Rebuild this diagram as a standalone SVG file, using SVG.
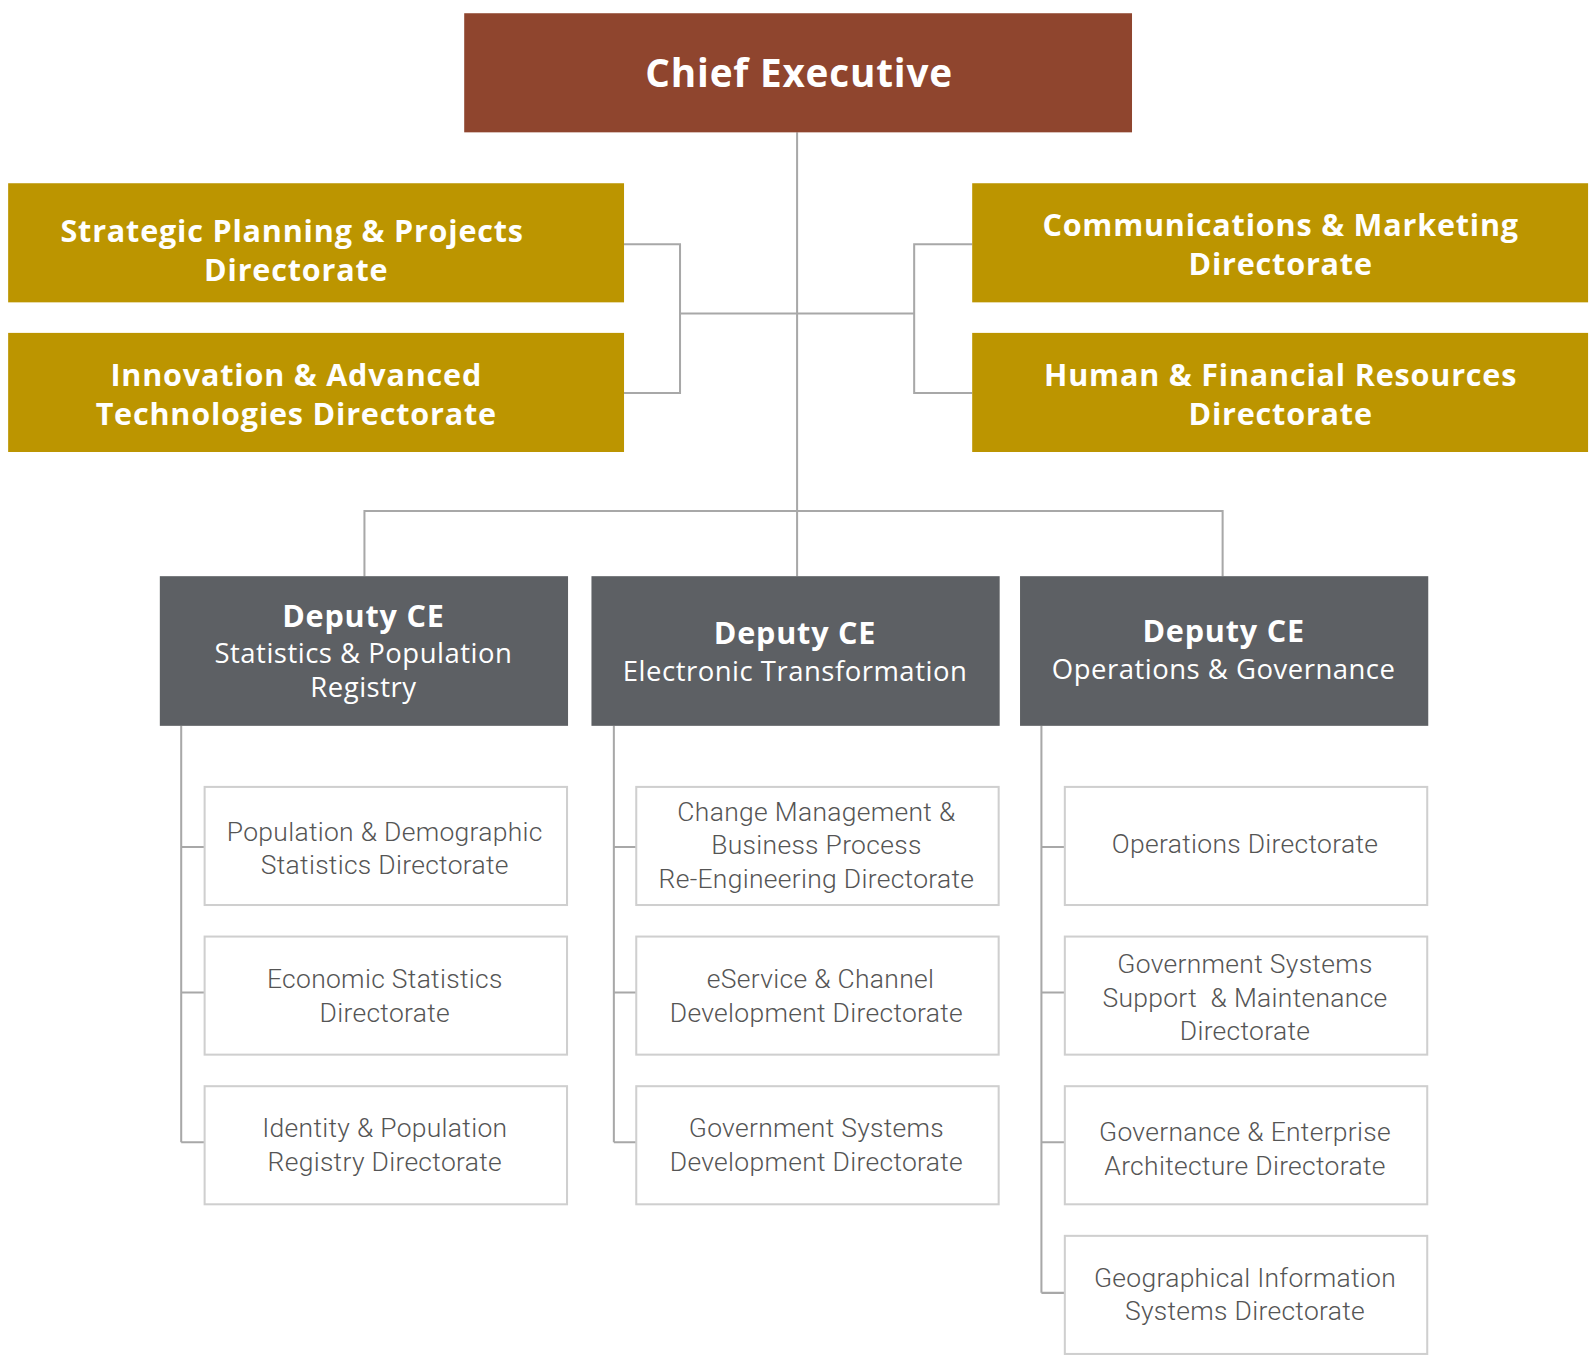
<svg xmlns="http://www.w3.org/2000/svg" width="1596" height="1369" viewBox="0 0 1596 1369">
<style>
.ce{fill:#8f452e}
.gold{fill:#bc9500}
.dep{fill:#5d6064}
.child{fill:#fff;stroke:#cfcfcf;stroke-width:2}
.conn{fill:none;stroke:#a8a8a8;stroke-width:2}
.tw{font-family:"Open Sans","Liberation Sans",sans-serif;fill:#fff;text-anchor:middle;font-weight:bold;letter-spacing:0.8px}
.td{font-family:"Open Sans","Liberation Sans",sans-serif;fill:#fff;text-anchor:middle;letter-spacing:0.5px}
.tc{font-family:Roboto,"Liberation Sans",sans-serif;fill:#555;text-anchor:middle;font-size:26px;font-weight:300;letter-spacing:0.3px}
</style>
<rect width="1596" height="1369" fill="#fff"/>
<g transform="scale(1.018)">
<g id="connectors" class="conn">
<path d="M783 130V566"/>
<path d="M613 240H668V386H613M668 308H898M955 240H898V386H955"/>
<path d="M358 566V502H1201V566"/>
<path d="M178 713V1122M178 832H201M178 975H201M178 1122H201"/>
<path d="M603 713V1122M603 832H625M603 975H625M603 1122H625"/>
<path d="M1023 713V1270M1023 832H1046M1023 975H1046M1023 1122H1046M1023 1270H1046"/>
</g>
<g id="ce"><rect class="ce" x="456" y="13" width="656" height="117"/><text class="tw" x="785" y="85" font-size="38">Chief Executive</text></g>
<g id="sp"><rect class="gold" x="8" y="180" width="605" height="117"/><text class="tw" x="287" y="238" font-size="30">Strategic Planning &amp; Projects</text><text class="tw" x="291" y="276" font-size="30">Directorate</text></g>
<g id="ia"><rect class="gold" x="8" y="327" width="605" height="117"/><text class="tw" x="291" y="379" font-size="30">Innovation &amp; Advanced</text><text class="tw" x="291" y="417" font-size="30">Technologies Directorate</text></g>
<g id="cm"><rect class="gold" x="955" y="180" width="605" height="117"/><text class="tw" x="1258" y="232" font-size="30">Communications &amp; Marketing</text><text class="tw" x="1258" y="270" font-size="30">Directorate</text></g>
<g id="hf"><rect class="gold" x="955" y="327" width="605" height="117"/><text class="tw" x="1258" y="379" font-size="30">Human &amp; Financial Resources</text><text class="tw" x="1258" y="417" font-size="30">Directorate</text></g>
<g id="d1"><rect class="dep" x="157" y="566" width="401" height="147"/><text class="tw" x="357" y="616" font-size="30">Deputy CE</text><text class="td" x="357" y="651" font-size="27">Statistics &amp; Population</text><text class="td" x="357" y="685" font-size="27">Registry</text></g>
<g id="d2"><rect class="dep" x="581" y="566" width="401" height="147"/><text class="tw" x="781" y="633" font-size="30">Deputy CE</text><text class="td" x="781" y="669" font-size="27">Electronic Transformation</text></g>
<g id="d3"><rect class="dep" x="1002" y="566" width="401" height="147"/><text class="tw" x="1202" y="631" font-size="30">Deputy CE</text><text class="td" x="1202" y="667" font-size="27">Operations &amp; Governance</text></g>
<g id="c11"><rect class="child" x="201" y="773" width="356" height="116"/><text class="tc" x="378" y="826">Population &amp; Demographic</text><text class="tc" x="378" y="859">Statistics Directorate</text></g>
<g id="c12"><rect class="child" x="201" y="920" width="356" height="116"/><text class="tc" x="378" y="971">Economic Statistics</text><text class="tc" x="378" y="1004">Directorate</text></g>
<g id="c13"><rect class="child" x="201" y="1067" width="356" height="116"/><text class="tc" x="378" y="1117">Identity &amp; Population</text><text class="tc" x="378" y="1150">Registry Directorate</text></g>
<g id="c21"><rect class="child" x="625" y="773" width="356" height="116"/><text class="tc" x="802" y="806">Change Management &amp;</text><text class="tc" x="802" y="839">Business Process</text><text class="tc" x="802" y="872">Re-Engineering Directorate</text></g>
<g id="c22"><rect class="child" x="625" y="920" width="356" height="116"/><text class="tc" x="806" y="971">eService &amp; Channel</text><text class="tc" x="802" y="1004">Development Directorate</text></g>
<g id="c23"><rect class="child" x="625" y="1067" width="356" height="116"/><text class="tc" x="802" y="1117">Government Systems</text><text class="tc" x="802" y="1150">Development Directorate</text></g>
<g id="c31"><rect class="child" x="1046" y="773" width="356" height="116"/><text class="tc" x="1223" y="838">Operations Directorate</text></g>
<g id="c32"><rect class="child" x="1046" y="920" width="356" height="116"/><text class="tc" x="1223" y="956">Government Systems</text><text class="tc" x="1223" y="989" xml:space="preserve">Support  &amp; Maintenance</text><text class="tc" x="1223" y="1022">Directorate</text></g>
<g id="c33"><rect class="child" x="1046" y="1067" width="356" height="116"/><text class="tc" x="1223" y="1121">Governance &amp; Enterprise</text><text class="tc" x="1223" y="1154">Architecture Directorate</text></g>
<g id="c34"><rect class="child" x="1046" y="1214" width="356" height="116"/><text class="tc" x="1223" y="1264">Geographical Information</text><text class="tc" x="1223" y="1297">Systems Directorate</text></g>
</g>
</svg>
